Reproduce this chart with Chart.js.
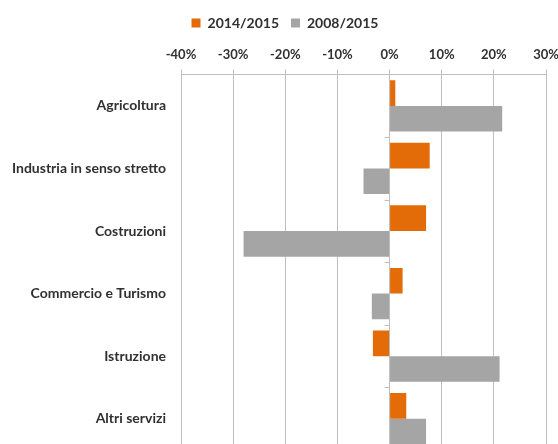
<!DOCTYPE html>
<html>
<head>
<meta charset="utf-8">
<script src="https://cdn.jsdelivr.net/npm/chart.js@4"></script>
<style>
    html, body { margin: 0; padding: 0; background: #fff; overflow: hidden; }
    #wrap { width: 558px; height: 452px; }
    #chart { width: 558px; height: 452px; }
</style>
</head>
<body>
<div id="wrap"><canvas id="chart" width="558" height="452"></canvas></div>
<script>
// dati del grafico
const categories = ['Agricoltura', 'Industria in senso stretto', 'Costruzioni',
                    'Commercio e Turismo', 'Istruzione', 'Altri servizi'];
const seriesNames = ['2014/2015', '2008/2015'];
const values20142015 = [1.1, 7.7, 7.0, 2.5, -3.2, 3.2];
const values20082015 = [21.6, -5.0, -28.0, -3.4, 21.1, 7.0];
const tickMin = -40;
const tickMax = 30;
const tickStep = 10;

const textColor = '#303030';
const gridColor = '#bfbfbf';

// piccoli trattini sull'asse verticale (tra le categorie)
const categoryTicks = {
    id: 'categoryTicks',
    afterDatasetsDraw(chart) {
        const ctx = chart.ctx;
        const x = chart.scales.x;
        const y = chart.scales.y;
        const x0 = x.getPixelForValue(0);
        ctx.save();
        ctx.strokeStyle = gridColor;
        ctx.lineWidth = 1;
        for (let i = 1; i <= categories.length; i++) {
            const py = Math.round(y.getPixelForValue(i - 0.5)) + 0.5;
            ctx.beginPath();
            ctx.moveTo(x0 - 5, py);
            ctx.lineTo(x0, py);
            ctx.stroke();
        }
        ctx.restore();
    }
};

// sposta un po' la legenda verso destra, come nell'originale
const legendShift = {
    id: 'legendShift',
    afterLayout(chart) {
        if (chart.legend) {
            chart.legend.left += 12;
            chart.legend.right += 12;
        }
    }
};

const ctx = document.getElementById('chart').getContext('2d');
new Chart(ctx, {
    type: 'bar',
    data: {
        labels: categories,
        datasets: [
            {
                label: seriesNames[0],
                data: values20142015,
                backgroundColor: '#E36C09',
                categoryPercentage: 0.82,
                barPercentage: 1.0
            },
            {
                label: seriesNames[1],
                data: values20082015,
                backgroundColor: '#A5A5A5',
                categoryPercentage: 0.82,
                barPercentage: 1.0
            }
        ]
    },
    options: {
        indexAxis: 'y',
        responsive: false,
        animation: false,
        layout: { padding: { left: 0, right: 12, top: 4, bottom: 2 } },
        plugins: {
            legend: {
                position: 'top',
                labels: {
                    boxWidth: 9,
                    boxHeight: 9,
                    padding: 12,
                    color: textColor,
                    font: { family: 'Lato', size: 14, weight: 'bold' }
                }
            },
            tooltip: { enabled: false }
        },
        scales: {
            x: {
                position: 'top',
                min: tickMin,
                max: tickMax,
                ticks: {
                    stepSize: tickStep,
                    color: textColor,
                    padding: 7,
                    font: { family: 'Lato', size: 13, weight: 'bold' },
                    callback: function(value) {
                        return value + '%';
                    }
                },
                grid: {
                    color: gridColor,
                    drawTicks: true,
                    tickLength: 5
                },
                border: { display: true, color: gridColor },
                afterFit: function(scale) {
                    scale.paddingLeft = 0;
                    scale.paddingRight = 0;
                }
            },
            y: {
                ticks: {
                    color: textColor,
                    padding: 15,
                    font: { family: 'Lato', size: 14, weight: 'bold' }
                },
                grid: { display: false, drawTicks: false },
                border: { display: false },
                afterFit: function(scale) {
                    scale.width = 181;
                    scale.paddingTop = 0;
                    scale.paddingBottom = 0;
                }
            }
        }
    },
    plugins: [categoryTicks, legendShift]
});
</script>
</body>
</html>
